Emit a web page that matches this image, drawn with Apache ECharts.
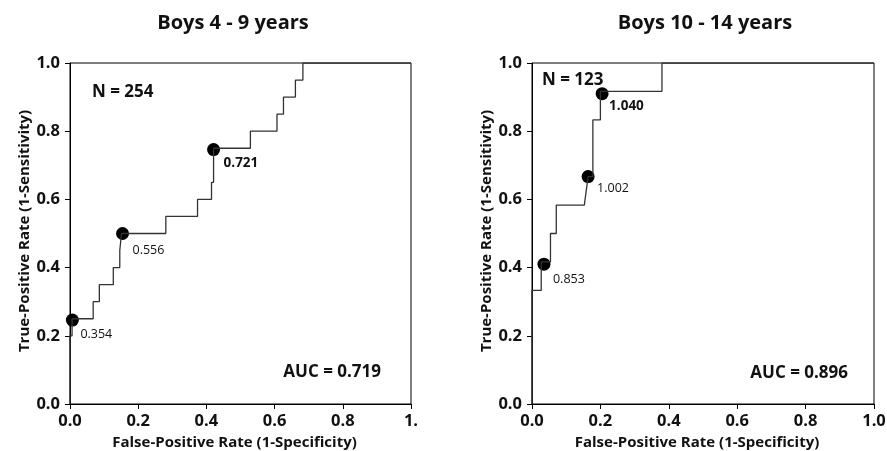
<!DOCTYPE html>
<html>
<head>
<meta charset="utf-8">
<script src="https://cdn.jsdelivr.net/npm/echarts@6/dist/echarts.min.js"></script>
<style>
  html, body { margin: 0; padding: 0; background: #fff; }
  #chart { width: 887px; height: 451px; }
</style>
</head>
<body>
<div id="chart"></div>
<script>
// ROC curve, boys 4-9 years (staircase vertices)
const youngFpr = [0, 0, 0.006, 0.006, 0.068, 0.068, 0.086, 0.086, 0.127, 0.127, 0.146, 0.146, 0.151, 0.151,
  0.281, 0.281, 0.374, 0.374, 0.415, 0.415, 0.421, 0.421, 0.529, 0.529, 0.607, 0.607, 0.626, 0.626,
  0.661, 0.661, 0.683, 0.683, 1];
const youngTpr = [0, 0.2, 0.2, 0.25, 0.25, 0.30, 0.30, 0.35, 0.35, 0.40, 0.40, 0.45, 0.45, 0.50,
  0.50, 0.55, 0.55, 0.60, 0.60, 0.65, 0.65, 0.75, 0.75, 0.80, 0.80, 0.85, 0.85, 0.90,
  0.90, 0.95, 0.95, 1, 1];
// cut-off points
const youngCutFpr = [0.007, 0.154, 0.421];
const youngCutTpr = [0.246, 0.50, 0.746];
const youngCutText = ["0.354", "0.556", "0.721"];

// ROC curve, boys 10-14 years
const olderFpr = [0, 0, 0.027, 0.027, 0.054, 0.054, 0.071, 0.071, 0.153, 0.164, 0.178, 0.178, 0.2, 0.2,
  0.38, 0.38, 1];
const olderTpr = [0, 0.333, 0.333, 0.417, 0.417, 0.5, 0.5, 0.583, 0.583, 0.667, 0.667, 0.833, 0.833, 0.917,
  0.917, 1, 1];
const olderCutFpr = [0.035, 0.164, 0.205];
const olderCutTpr = [0.41, 0.667, 0.91];
const olderCutText = ["0.853", "1.002", "1.040"];

const titles = ["Boys 4 - 9 years", "Boys 10 - 14 years"];
const nText = ["N = 254", "N = 123"];
const aucText = ["AUC = 0.719", "AUC = 0.896"];

const FONT = "'Open Sans', 'DejaVu Sans', sans-serif";
const INK = "#111";

// label offsets from the marker centre, and which cut-off is bold
const youngLabelPos = [[8, 14], [10, 17], [10, 14]];
const olderLabelPos = [[9, 15], [9, 12], [7, 12]];
const youngBold = 2, olderBold = 2;

function cutPoints(fpr, tpr, text, pos, boldIdx) {
  return fpr.map((x, i) => ({
    value: [x, tpr[i]],
    label: {
      show: true,
      formatter: text[i],
      position: "inside",
      align: "left",
      verticalAlign: "middle",
      offset: pos[i],
      color: INK,
      fontFamily: FONT,
      fontSize: i === boldIdx ? 13.5 : 12.5,
      fontWeight: i === boldIdx ? "bold" : "normal"
    }
  }));
}

function xAxisCfg(idx, lastLabel) {
  return {
    gridIndex: idx,
    type: "value",
    min: 0,
    max: 1,
    interval: 0.2,
    name: "False-Positive Rate (1-Specificity)",
    nameLocation: "middle",
    nameGap: 28,
    nameTextStyle: { color: INK, fontFamily: FONT, fontSize: 15, fontWeight: "bold", padding: [0, 12, 0, 0] },
    axisLine: { lineStyle: { color: "#000", width: 1 } },
    axisTick: { show: true, length: 5, lineStyle: { color: "#000" } },
    axisLabel: {
      margin: 9,
      color: INK,
      fontFamily: FONT,
      fontSize: 16.5,
      fontWeight: "bold",
      formatter: v => (v === 1 ? lastLabel : v.toFixed(1))
    },
    splitLine: { show: false }
  };
}

function yAxisCfg(idx) {
  return {
    gridIndex: idx,
    type: "value",
    min: 0,
    max: 1,
    interval: 0.2,
    name: "True-Positive Rate (1-Sensitivity)",
    nameLocation: "middle",
    nameGap: 36,
    nameTextStyle: { color: INK, fontFamily: FONT, fontSize: 15, fontWeight: "bold", padding: [0, 0, 0, 5] },
    axisLine: { lineStyle: { color: "#000", width: 1 } },
    axisTick: { show: true, length: 5, lineStyle: { color: "#000" } },
    axisLabel: {
      margin: 10,
      color: INK,
      fontFamily: FONT,
      fontSize: 16.5,
      fontWeight: "bold",
      formatter: v => v.toFixed(1)
    },
    splitLine: { show: false }
  };
}

function textEl(text, x, y, size, align) {
  return {
    type: "text",
    x: x,
    y: y,
    style: {
      text: text,
      fill: INK,
      font: "bold " + size + "px " + FONT,
      align: align,
      verticalAlign: "middle"
    }
  };
}

const chart = echarts.init(document.getElementById("chart"));

chart.setOption({
  animation: false,
  grid: [
    { left: 70, top: 63, width: 341, height: 341, outerBoundsMode: "none", show: true, borderColor: "#000", borderWidth: 1, backgroundColor: "transparent" },
    { left: 532, top: 63, width: 342, height: 341, outerBoundsMode: "none", show: true, borderColor: "#000", borderWidth: 1, backgroundColor: "transparent" }
  ],
  xAxis: [xAxisCfg(0, "1."), xAxisCfg(1, "1.0")],
  yAxis: [yAxisCfg(0), yAxisCfg(1)],
  graphic: [
    textEl(titles[0], 233, 23, 20, "center"),
    textEl(titles[1], 705, 23, 20, "center"),
    textEl(nText[0], 92, 92, 17, "left"),
    textEl(nText[1], 542, 80, 17, "left"),
    textEl(aucText[0], 381, 372, 17, "right"),
    textEl(aucText[1], 848, 373, 17, "right")
  ],
  series: [
    {
      type: "line",
      xAxisIndex: 0,
      yAxisIndex: 0,
      data: youngFpr.map((x, i) => [x, youngTpr[i]]),
      showSymbol: false,
      lineStyle: { color: "#333", width: 1.3 }
    },
    {
      type: "scatter",
      xAxisIndex: 0,
      yAxisIndex: 0,
      symbol: "circle",
      symbolSize: 13,
      itemStyle: { color: "#000", opacity: 1 },
      data: cutPoints(youngCutFpr, youngCutTpr, youngCutText, youngLabelPos, youngBold)
    },
    {
      type: "line",
      xAxisIndex: 1,
      yAxisIndex: 1,
      data: olderFpr.map((x, i) => [x, olderTpr[i]]),
      showSymbol: false,
      lineStyle: { color: "#333", width: 1.3 }
    },
    {
      type: "scatter",
      xAxisIndex: 1,
      yAxisIndex: 1,
      symbol: "circle",
      symbolSize: 13,
      itemStyle: { color: "#000", opacity: 1 },
      data: cutPoints(olderCutFpr, olderCutTpr, olderCutText, olderLabelPos, olderBold)
    }
  ]
});
</script>
</body>
</html>
